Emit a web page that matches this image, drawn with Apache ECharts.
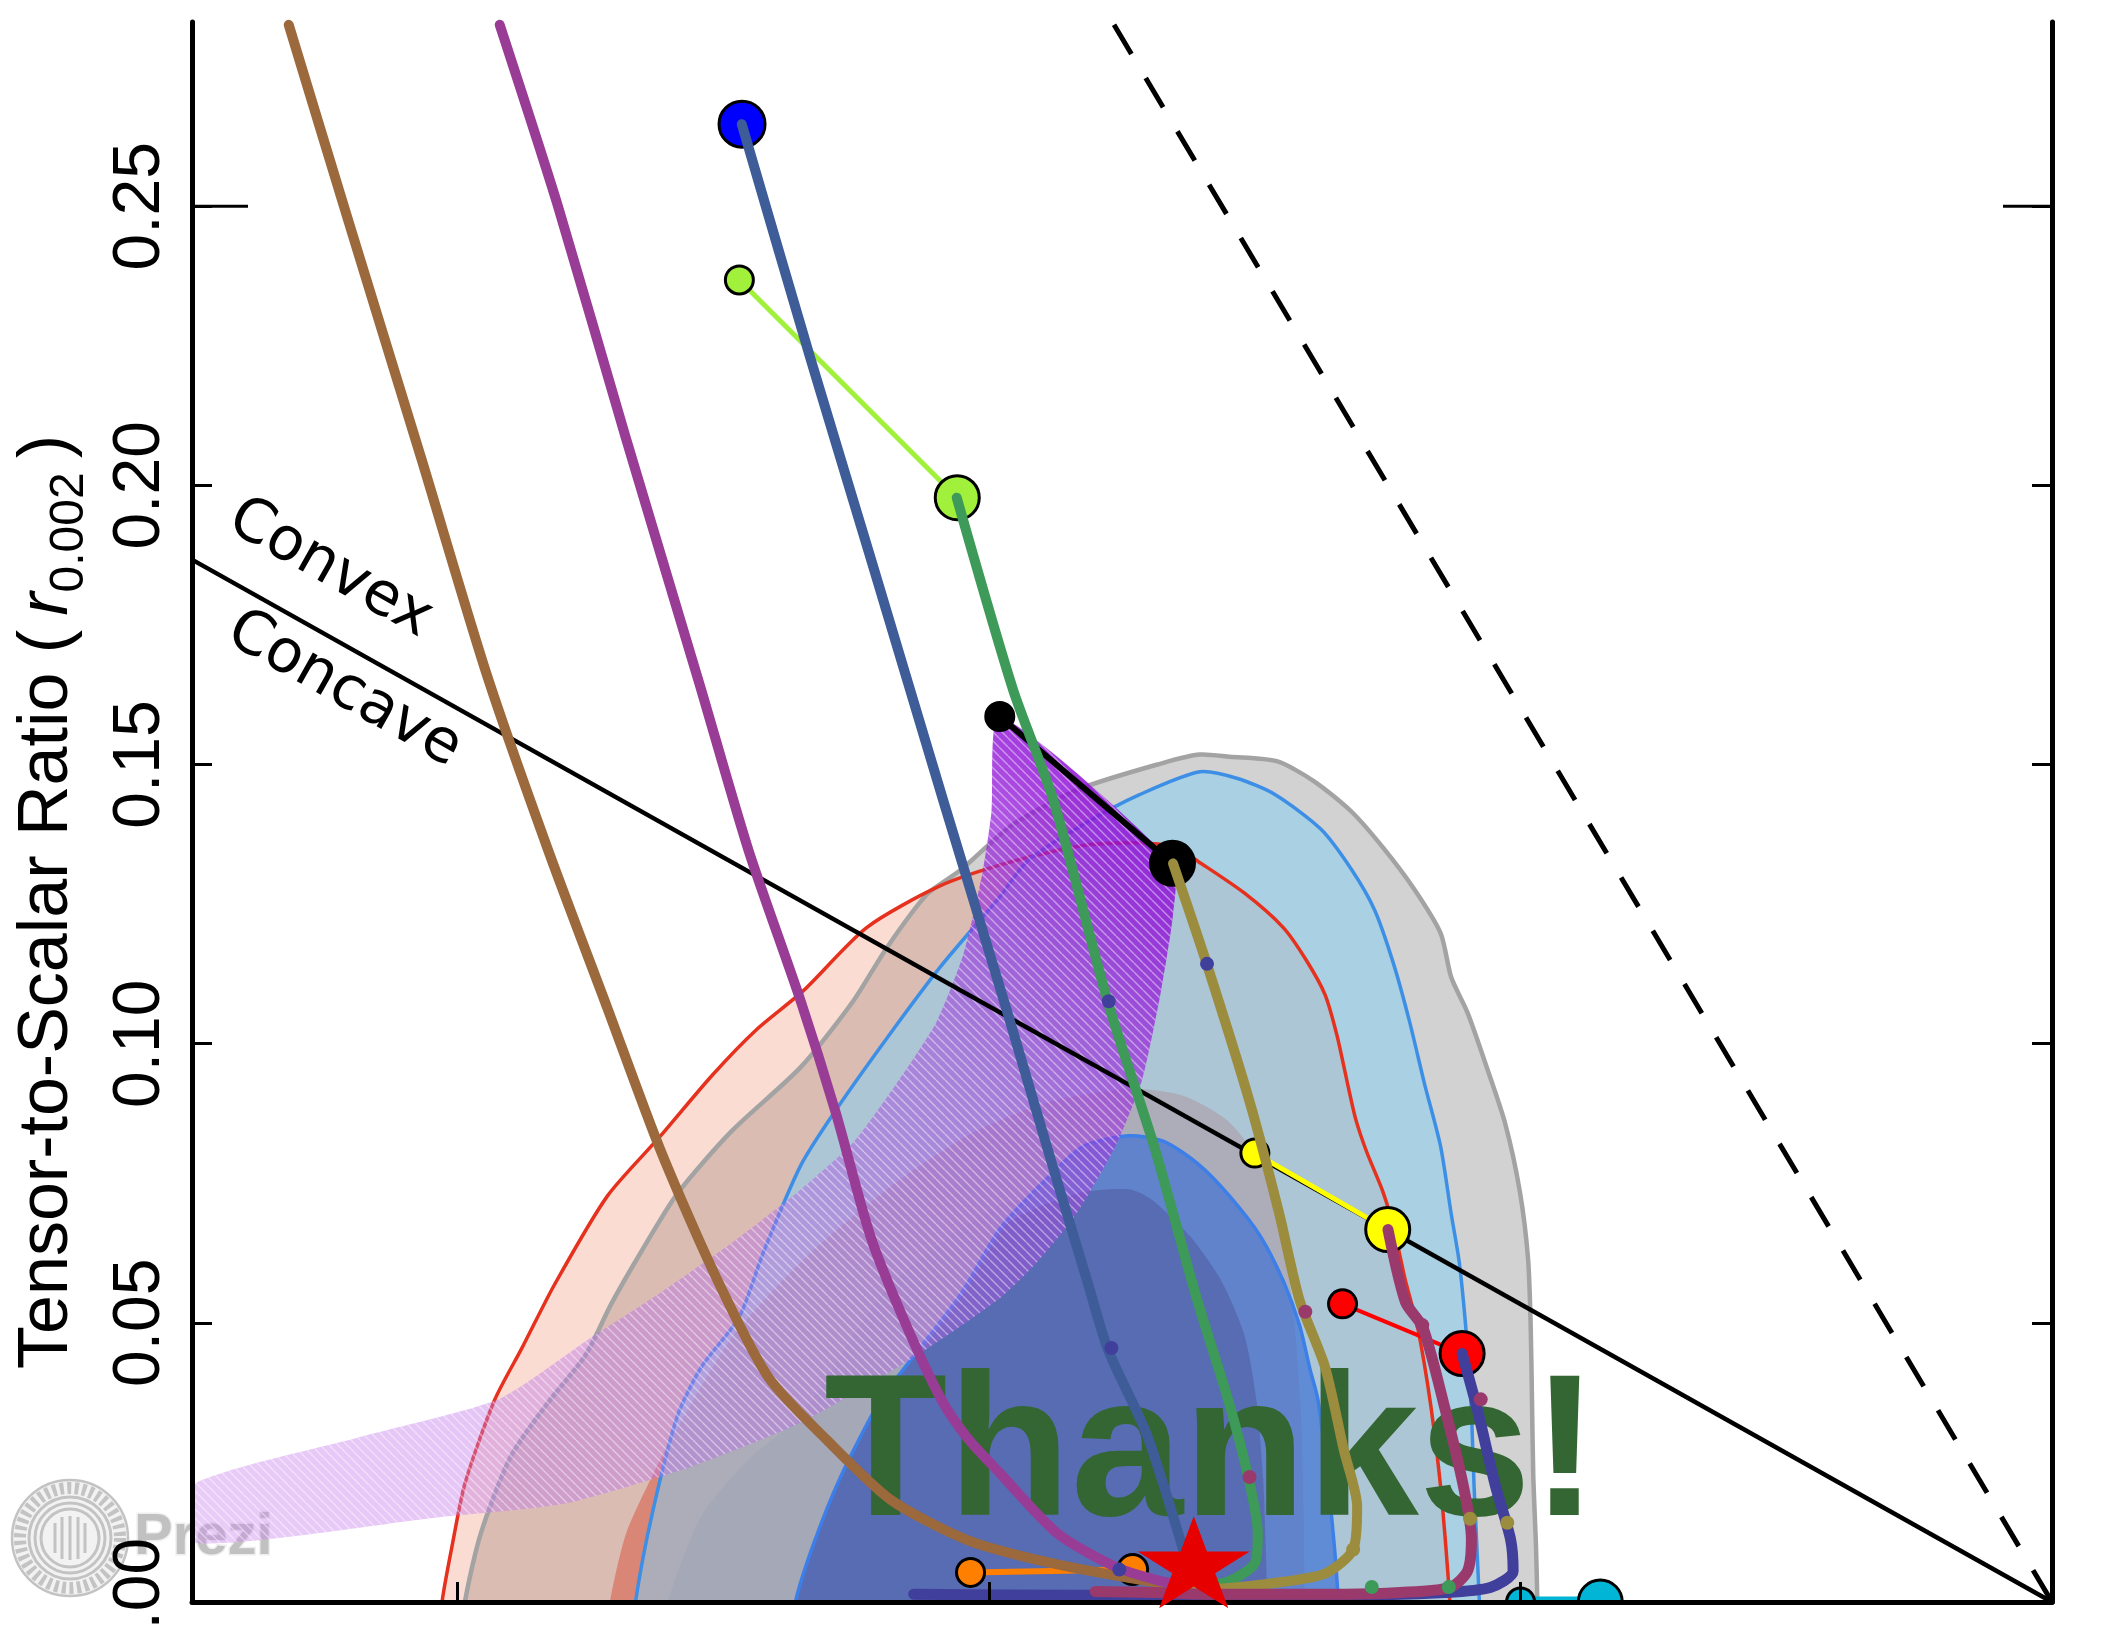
<!DOCTYPE html>
<html>
<head>
<meta charset="utf-8">
<script src="https://cdn.jsdelivr.net/npm/echarts@6/dist/echarts.min.js"></script>
<style>
  html, body { margin: 0; padding: 0; background: #ffffff; }
  #chart { width: 2107px; height: 1628px; }
</style>
</head>
<body>
<div id="chart"></div>
<script>
// ---- axis ticks ----
const xTicks = [0.94, 0.96, 0.98];
const yTicks = [0, 0.05, 0.10, 0.15, 0.20, 0.25];
const nsRange = [0.93, 1.0];
const rRange = [0, 0.283];

// ---- joint (n_s, r) constraints: 95% and 68% boundaries ----
const gray95 = [[0.94027,0],[0.94087,0.0123],[0.94199,0.0260],[0.94330,0.0351],[0.94482,0.0443],[0.94578,0.0534],[0.94694,0.0630],[0.94826,0.0731],[0.95028,0.0842],[0.95291,0.0958],[0.95488,0.1076],[0.95615,0.1172],[0.95767,0.1268],[0.95893,0.1311],[0.96085,0.1391],[0.96338,0.1456],[0.96662,0.1504],[0.96793,0.1518],[0.96905,0.1514],[0.97082,0.1506],[0.97223,0.1470],[0.97365,0.1415],[0.97481,0.1352],[0.97598,0.1278],[0.97699,0.1198],[0.97739,0.1119],[0.97800,0.1056],[0.97871,0.0960],[0.97942,0.0857],[0.97997,0.0736],[0.98028,0.0616],[0.98038,0.0496],[0.98043,0.0361],[0.98048,0.0221],[0.98058,0.0101],[0.98063,0]];
const red95 = [[0.93941,0],[0.93981,0.0106],[0.94027,0.0212],[0.94138,0.0361],[0.94244,0.0457],[0.94366,0.0570],[0.94563,0.0727],[0.94760,0.0833],[0.94957,0.0943],[0.95124,0.1025],[0.95301,0.1095],[0.95539,0.1208],[0.95817,0.1283],[0.96085,0.1326],[0.96353,0.1355],[0.96566,0.1360],[0.96702,0.1352],[0.96788,0.1326],[0.96960,0.1270],[0.97107,0.1208],[0.97193,0.1150],[0.97264,0.1088],[0.97309,0.1015],[0.97350,0.0926],[0.97380,0.0864],[0.97421,0.0806],[0.97481,0.0736],[0.97522,0.0671],[0.97567,0.0575],[0.97613,0.0491],[0.97663,0.0349],[0.97699,0.0207],[0.97734,0]];
const blue95 = [[0.94669,0],[0.94730,0.0154],[0.94826,0.0332],[0.94917,0.0421],[0.95059,0.0510],[0.95150,0.0626],[0.95291,0.0782],[0.95423,0.0881],[0.95620,0.1013],[0.95817,0.1138],[0.96040,0.1263],[0.96146,0.1328],[0.96374,0.1398],[0.96566,0.1446],[0.96793,0.1487],[0.96935,0.1475],[0.97077,0.1446],[0.97249,0.1384],[0.97365,0.1311],[0.97451,0.1239],[0.97522,0.1143],[0.97582,0.1040],[0.97638,0.0929],[0.97699,0.0816],[0.97739,0.0695],[0.97770,0.0606],[0.97800,0.0457],[0.97815,0.0342],[0.97825,0.0207],[0.97845,0]];
const gray68 = [[0.94790,0],[0.94917,0.0154],[0.95104,0.0260],[0.95286,0.0332],[0.95620,0.0563],[0.96040,0.0712],[0.96323,0.0731],[0.96530,0.0739],[0.96616,0.0719],[0.96758,0.0654],[0.96874,0.0575],[0.96960,0.0479],[0.97006,0.0361],[0.97031,0.0221],[0.97041,0.0101],[0.97046,0]];
const red68 = [[0.94573,0],[0.94634,0.0123],[0.94730,0.0224],[0.94806,0.0294],[0.95033,0.0474],[0.95311,0.0618],[0.95615,0.0739],[0.95918,0.0835],[0.96222,0.0895],[0.96525,0.0919],[0.96728,0.0907],[0.96905,0.0859],[0.97031,0.0775],[0.97107,0.0654],[0.97147,0.0510],[0.97173,0.0342],[0.97183,0.0173],[0.97188,0]];
const blue68 = [[0.95271,0],[0.95337,0.0101],[0.95438,0.0221],[0.95590,0.0361],[0.95701,0.0431],[0.95893,0.0551],[0.96045,0.0671],[0.96202,0.0751],[0.96353,0.0816],[0.96525,0.0835],[0.96657,0.0825],[0.96788,0.0784],[0.96905,0.0727],[0.97021,0.0655],[0.97107,0.0575],[0.97168,0.0496],[0.97208,0.0416],[0.97238,0.0361],[0.97274,0.0221],[0.97299,0.0101],[0.97314,0]];

// ---- natural inflation band: N = 50 edge and N = 60 edge ----
const naturalN50 = [[0.96040,0.1586],[0.96009,0.1415],[0.95974,0.1304],[0.95903,0.1160],[0.95802,0.1039],[0.95655,0.0931],[0.95488,0.0823],[0.95291,0.0739],[0.95028,0.0642],[0.94760,0.0553],[0.94497,0.0472],[0.94153,0.0363],[0.93622,0.0294],[0.93000,0.0209]];
const naturalN60 = [[0.93000,0.0106],[0.93931,0.0152],[0.94401,0.0176],[0.94871,0.0241],[0.95286,0.0320],[0.95716,0.0438],[0.96040,0.0544],[0.96181,0.0609],[0.96328,0.0695],[0.96475,0.0816],[0.96576,0.0936],[0.96647,0.1095],[0.96692,0.1232],[0.96692,0.1323]];

// ---- reference lines ----
const convexLine = [[0.93, 0.1867], [1.0, 0]];
const powerLawLine = [[0.9647, 0.2825], [1.0, 0]];

// ---- monomial potentials: N = 50 (small) and N = 60 (large) ----
const modelNames = ['phi4', 'phi3', 'phi2', 'phi1', 'phi23', 'R2', 'SSB'];
const nsN50 = [null, 0.9506, 0.9604, 0.9700, 0.9733, 0.9593, 0.9800];
const rN50  = [null, 0.2368, 0.1586, 0.0804, 0.0534, 0.0053, 0.0];
const nsN60 = [0.9507, 0.9588, 0.9669, 0.9750, 0.9778, 0.9654, 0.9830];
const rN60  = [0.2647, 0.1978, 0.1323, 0.0667, 0.0445, 0.0058, 0.0];

// ---- attractor tracks ----
const brownTrack = [[0.93364,0.2825],[0.93587,0.2476],[0.93865,0.2045],[0.94108,0.1663],[0.94340,0.1347],[0.94563,0.1064],[0.94760,0.0813],[0.94962,0.0592],[0.95170,0.0402],[0.95392,0.0289],[0.95630,0.0183],[0.95918,0.0111],[0.96232,0.0070],[0.96591,0.0038],[0.96753,0.0029]];
const purpleTrack = [[0.94158,0.2825],[0.94376,0.2502],[0.94629,0.2091],[0.94912,0.1641],[0.95094,0.1347],[0.95291,0.1076],[0.95423,0.0876],[0.95554,0.0654],[0.95686,0.0498],[0.95822,0.0361],[0.95918,0.0294],[0.96040,0.0231],[0.96257,0.0123],[0.96475,0.0063],[0.96642,0.0038],[0.96753,0.0029]];
const steelTrack = [[0.95069,0.2647],[0.95327,0.2228],[0.95559,0.1862],[0.95827,0.1436],[0.96070,0.1054],[0.96217,0.0816],[0.96369,0.0575],[0.96449,0.0450],[0.96591,0.0303],[0.96712,0.0123],[0.96758,0.0046]];
const greenTrack = [[0.95878,0.1978],[0.96090,0.1634],[0.96242,0.1436],[0.96449,0.1071],[0.96621,0.0816],[0.96783,0.0541],[0.96900,0.0361],[0.96975,0.0224],[0.97011,0.0123],[0.97001,0.0070],[0.96905,0.0038],[0.96783,0.0026]];
const oliveTrack = [[0.96692,0.1323],[0.96819,0.1143],[0.96981,0.0895],[0.97092,0.0695],[0.97168,0.0541],[0.97264,0.0421],[0.97335,0.0272],[0.97385,0.0171],[0.97370,0.0094],[0.97264,0.0051],[0.97072,0.0034],[0.96879,0.0024],[0.96758,0.0022]];
const indigoTrack = [[0.97780,0.0445],[0.97835,0.0349],[0.97906,0.0207],[0.97962,0.0113],[0.97972,0.0055],[0.97886,0.0026],[0.97714,0.0017],[0.97335,0.0012],[0.96829,0.0012],[0.96323,0.0012],[0.95716,0.0014]];
const roseTrack = [[0.97501,0.0667],[0.97567,0.0537],[0.97633,0.0491],[0.97714,0.0349],[0.97785,0.0207],[0.97815,0.0113],[0.97800,0.0055],[0.97734,0.0026],[0.97547,0.0017],[0.97335,0.0014],[0.97082,0.0014],[0.96829,0.0014],[0.96626,0.0017],[0.96399,0.0019]];

// ---- e-fold markers along the tracks ----
const dotNs   = [0.9645, 0.9646, 0.9682, 0.9719, 0.9698, 0.9763, 0.9785, 0.9781, 0.9795, 0.9737, 0.9744, 0.9773, 0.9649];
const dotR    = [0.1076, 0.0455, 0.1143, 0.0520, 0.0224, 0.0496, 0.0363, 0.0149, 0.0142, 0.0094, 0.0027, 0.0027, 0.0058];
const dotKind = ['indigo','indigo','indigo','rose','rose','rose','rose','olive','olive','olive','green','green','indigo'];

// ---- Starobinsky point ----
const starPoint = [0.9677, 0.0071];

// ---------------- styles ----------------
const trackColor = {
  brown: '#9b693c', purple: '#993c96', steel: '#3e5c98', green: '#3e9a58',
  olive: '#9b8c3e', indigo: '#413f9c', rose: '#9a3a6c'
};
const markerStyle = {
  phi4:  { color: '#0000ff', lw: 0,  big: 46 },
  phi3:  { color: '#a0f03c', lw: 5,  big: 44 },
  phi2:  { color: '#000000', lw: 6,  big: 44 },
  phi1:  { color: '#ffff00', lw: 5,  big: 44 },
  phi23: { color: '#ff0000', lw: 4,  big: 44 },
  R2:    { color: '#ff7f00', lw: 6,  big: 30 },
  SSB:   { color: '#00b5d5', lw: 11, big: 44 }
};
const starSymbol = 'path://M50,0L61.2,34.5L97.6,34.5L68.2,55.9L79.4,90.5L50,69.1L20.6,90.5L31.8,55.9L2.4,34.5L38.8,34.5Z';

// hatch used on the natural inflation band
const hatch = document.createElement('canvas');
hatch.width = 9; hatch.height = 9;
(function () {
  const c = hatch.getContext('2d');
  c.strokeStyle = 'rgba(255,255,255,0.45)';
  c.lineWidth = 1.4;
  for (const o of [-9, 0, 9]) {
    c.beginPath(); c.moveTo(o, 0); c.lineTo(o + 9, 9); c.stroke();
  }
})();

// closes a region that rests on r = 0 slightly below the axis so smoothing stays hidden
function closeOnAxis(pts) {
  return [[pts[0][0], -0.004]].concat(pts, [[pts[pts.length - 1][0], -0.004]]);
}

function regionFill(pts, fill, z) {
  const closed = closeOnAxis(pts);
  return {
    type: 'custom', coordinateSystem: 'cartesian2d', z: z || 1, clip: true, silent: true,
    data: [pts[0]],
    renderItem: (params, api) => ({
      type: 'polygon',
      shape: { points: closed.map(p => api.coord(p)), smooth: 0.25 },
      style: { fill: fill }
    })
  };
}

function regionEdge(pts, color, width) {
  const closed = closeOnAxis(pts);
  return {
    type: 'custom', coordinateSystem: 'cartesian2d', z: 2, clip: true, silent: true,
    data: [pts[0]],
    renderItem: (params, api) => ({
      type: 'polyline',
      shape: { points: closed.map(p => api.coord(p)), smooth: 0.25 },
      style: { stroke: color, lineWidth: width, fill: null }
    })
  };
}

function track(pts, color, width) {
  return {
    type: 'line', data: pts, showSymbol: false, smooth: 0.25, z: 6, silent: true,
    clip: true,
    lineStyle: { color: color, width: width, cap: 'round', join: 'round' }
  };
}

// overlap of the two inner regions: left flank of blue68, right flank of gray68
const coreOverlap = blue68.filter(p => p[0] < 0.9615).concat(gray68.filter(p => p[0] > 0.9615));
const bandPoints = naturalN50.concat(naturalN60);

const series = [
  regionFill(gray95, 'rgba(165,165,165,0.5)'),
  regionFill(red95, 'rgba(240,140,110,0.3)'),
  regionFill(gray68, 'rgba(120,120,140,0.3)'),
  regionFill(red68, 'rgba(215,80,60,0.5)'),
  regionFill(blue95, 'rgba(135,205,240,0.55)'),
  regionFill(blue68, 'rgba(50,105,215,0.62)'),
  regionFill(coreOverlap, 'rgba(70,50,110,0.26)'),
  regionEdge(gray95, '#a3a3a3', 4.5),
  regionEdge(red95, '#e5311d', 3.5),
  regionEdge(blue95, '#3d8fe6', 3.5),
  regionEdge(blue68, '#3d7fe8', 3.5),
  {
    // natural inflation, N = 50 .. 60
    type: 'custom', coordinateSystem: 'cartesian2d', z: 3, clip: true, silent: true,
    data: [bandPoints[0]],
    renderItem: (params, api) => {
      const pts = bandPoints.map(p => api.coord(p));
      return {
        type: 'group',
        children: [
          {
            type: 'polygon', shape: { points: pts, smooth: 0.2 },
            style: {
              fill: new echarts.graphic.LinearGradient(1, 0, 0, 1, [
                { offset: 0, color: 'rgba(135,0,215,0.95)' },
                { offset: 0.12, color: 'rgba(145,20,215,0.8)' },
                { offset: 0.3, color: 'rgba(160,70,220,0.55)' },
                { offset: 0.5, color: 'rgba(180,105,228,0.45)' },
                { offset: 1, color: 'rgba(205,135,238,0.42)' }
              ])
            }
          },
          {
            type: 'polygon', shape: { points: pts, smooth: 0.2 },
            style: { fill: { image: hatch, repeat: 'repeat' } }
          }
        ]
      };
    }
  },
  {
    type: 'line', data: convexLine, showSymbol: false, z: 3.5, silent: true,
    lineStyle: { color: '#000', width: 4.5 }
  },
  {
    type: 'line', data: powerLawLine, showSymbol: false, z: 3.5, silent: true,
    lineStyle: { color: '#000', width: 5, type: [34, 28] }
  },
  {
    // N = 50 / N = 60 predictions of the potentials
    type: 'custom', coordinateSystem: 'cartesian2d', z: 5, clip: true, silent: true,
    data: modelNames.map((m, i) => [nsN60[i], rN60[i], i]),
    renderItem: (params, api) => {
      const i = api.value(2);
      const st = markerStyle[modelNames[i]];
      const big = api.coord([api.value(0), api.value(1)]);
      const kids = [];
      let small = null;
      if (nsN50[i] !== null) {
        small = api.coord([nsN50[i], rN50[i]]);
        kids.push({ type: 'line', shape: { x1: small[0], y1: small[1], x2: big[0], y2: big[1] },
          style: { stroke: st.color, lineWidth: st.lw, lineCap: 'round' } });
      }
      kids.push({ type: 'circle', shape: { cx: big[0], cy: big[1], r: st.big / 2 },
        style: { fill: st.color, stroke: '#000', lineWidth: 3 } });
      if (small) {
        kids.push({ type: 'circle', shape: { cx: small[0], cy: small[1], r: 14 },
          style: { fill: st.color, stroke: '#000', lineWidth: 3 } });
      }
      return { type: 'group', children: kids };
    }
  },
  track(brownTrack, trackColor.brown, 10),
  track(purpleTrack, trackColor.purple, 10),
  track(steelTrack, trackColor.steel, 10),
  track(greenTrack, trackColor.green, 10),
  track(oliveTrack, trackColor.olive, 10),
  track(indigoTrack, trackColor.indigo, 11),
  track(roseTrack, trackColor.rose, 11),
  {
    type: 'scatter', z: 7, silent: true, symbolSize: 14,
    data: dotNs.map((n, i) => ({ value: [n, dotR[i]], itemStyle: { color: trackColor[dotKind[i]], opacity: 1 } }))
  },
  {
    type: 'scatter', z: 9, silent: true, clip: false,
    data: [starPoint], symbol: starSymbol, symbolSize: [112, 92],
    itemStyle: { color: '#e60000', opacity: 1 }
  },
  {
    // longer major tick at r = 0.25 on both frames
    type: 'custom', coordinateSystem: 'cartesian2d', z: 8, clip: false, silent: true,
    data: [[nsRange[0], yTicks[5]]],
    renderItem: (params, api) => {
      const pL = api.coord([nsRange[0], yTicks[5]]);
      const pR = api.coord([nsRange[1], yTicks[5]]);
      return {
        type: 'group',
        children: [
          { type: 'line', shape: { x1: pL[0], y1: pL[1], x2: pL[0] + 56, y2: pL[1] }, style: { stroke: '#000', lineWidth: 3 } },
          { type: 'line', shape: { x1: pR[0], y1: pR[1], x2: pR[0] - 49, y2: pR[1] }, style: { stroke: '#000', lineWidth: 3 } }
        ]
      };
    }
  }
];

const axisLineStyle = { show: true, lineStyle: { color: '#000', width: 5 } };
const yTickStyle = { show: true, inside: true, length: 20, customValues: yTicks, lineStyle: { color: '#000', width: 3 } };
const logoGray = '#c3c3c3';

const option = {
  animation: false,
  backgroundColor: '#ffffff',
  grid: { left: 192, right: 55, top: 22, bottom: 26, containLabel: false, outerBoundsMode: 'none' },
  xAxis: {
    type: 'value', min: nsRange[0], max: nsRange[1], z: 8,
    axisLine: { show: true, onZero: false, lineStyle: { color: '#000', width: 5 } },
    axisTick: { show: true, inside: true, length: 20, customValues: xTicks, lineStyle: { color: '#000', width: 3 } },
    axisLabel: { show: false },
    splitLine: { show: false }
  },
  yAxis: [
    {
      type: 'value', min: rRange[0], max: rRange[1], position: 'left', z: 8,
      axisLine: axisLineStyle,
      axisTick: yTickStyle,
      axisLabel: {
        show: true, customValues: yTicks, rotate: 90, margin: 18,
        fontSize: 66, fontFamily: 'Liberation Sans', color: '#000',
        formatter: v => v.toFixed(2)
      },
      splitLine: { show: false }
    },
    {
      type: 'value', min: rRange[0], max: rRange[1], position: 'right', z: 8,
      axisLine: axisLineStyle,
      axisTick: yTickStyle,
      axisLabel: { show: false },
      splitLine: { show: false }
    }
  ],
  graphic: {
    elements: [
      {
        type: 'text', x: 824, y: 1459, z: 4, silent: true,
        style: { text: 'Thanks!', font: 'bold 202px "Liberation Sans"', fill: '#346633', align: 'left', verticalAlign: 'middle' }
      },
      {
        type: 'text', x: 330, y: 569, rotation: -0.514, z: 4, silent: true,
        style: { text: 'Convex', font: '60px "DejaVu Sans"', fill: '#000', align: 'center', verticalAlign: 'middle' }
      },
      {
        type: 'text', x: 344, y: 690, rotation: -0.514, z: 4, silent: true,
        style: { text: 'Concave', font: '60px "DejaVu Sans"', fill: '#000', align: 'center', verticalAlign: 'middle' }
      },
      {
        type: 'text', x: 48, y: 902, rotation: Math.PI / 2, z: 4, silent: true,
        style: {
          text: 'Tensor-to-Scalar Ratio (\u2009{r|r}{s|0.002}\u2009)',
          font: '70px "Liberation Sans"', fill: '#000', align: 'center', verticalAlign: 'middle',
          rich: {
            r: { font: 'italic 70px "Liberation Sans"', fill: '#000' },
            s: { font: '48px "Liberation Sans"', fill: '#000', padding: [44, 0, 0, 0] }
          }
        }
      },
      {
        type: 'group', x: 70, y: 1538, z: 30, silent: true,
        children: [
          { type: 'circle', shape: { cx: 0, cy: 0, r: 58 }, style: { fill: 'rgba(236,236,236,0.7)', stroke: logoGray, lineWidth: 2.5 } },
          { type: 'circle', shape: { cx: 0, cy: 0, r: 50 }, style: { fill: null, stroke: logoGray, lineWidth: 12, lineDash: [4, 3.5] } },
          { type: 'circle', shape: { cx: 0, cy: 0, r: 41 }, style: { fill: null, stroke: logoGray, lineWidth: 3 } },
          { type: 'circle', shape: { cx: 0, cy: 0, r: 35 }, style: { fill: null, stroke: logoGray, lineWidth: 3 } },
          { type: 'circle', shape: { cx: 0, cy: 0, r: 29 }, style: { fill: null, stroke: logoGray, lineWidth: 3 } },
          { type: 'line', shape: { x1: -15, y1: -15, x2: -15, y2: 15 }, style: { stroke: logoGray, lineWidth: 3 } },
          { type: 'line', shape: { x1: -8, y1: -21, x2: -8, y2: 21 }, style: { stroke: logoGray, lineWidth: 3 } },
          { type: 'line', shape: { x1: 0, y1: -22, x2: 0, y2: 22 }, style: { stroke: logoGray, lineWidth: 3 } },
          { type: 'line', shape: { x1: 8, y1: -21, x2: 8, y2: 21 }, style: { stroke: logoGray, lineWidth: 3 } },
          { type: 'line', shape: { x1: 15, y1: -15, x2: 15, y2: 15 }, style: { stroke: logoGray, lineWidth: 3 } },
          {
            type: 'text', x: 64, y: 0,
            style: { text: 'Prezi', font: 'bold 58px "Liberation Sans"', fill: 'rgba(190,190,190,0.95)', stroke: 'rgba(236,236,236,0.85)', lineWidth: 3, align: 'left', verticalAlign: 'middle' }
          }
        ]
      }
    ]
  },
  series: series
};

const chart = echarts.init(document.getElementById('chart'), null, { renderer: 'canvas' });
chart.setOption(option);
</script>
</body>
</html>
